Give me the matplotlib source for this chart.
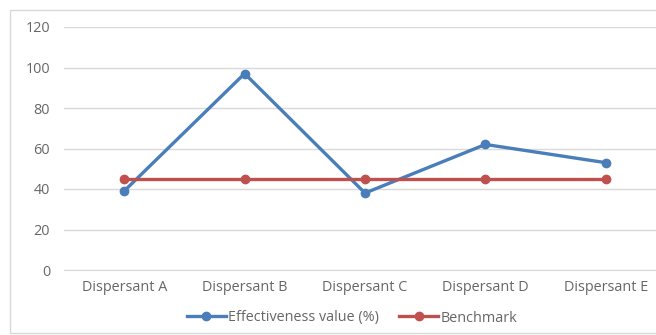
import matplotlib.pyplot as plt

# Effectiveness of each dispersant against a fixed benchmark
dispersants = ['Dispersant A', 'Dispersant B', 'Dispersant C', 'Dispersant D', 'Dispersant E']
effectiveness = [39, 97, 38, 62, 53]
benchmark = [45, 45, 45, 45, 45]
y_ticks = [0, 20, 40, 60, 80, 100, 120]

plt.rcParams['font.family'] = ['Open Sans', 'DejaVu Sans']

fig = plt.figure(figsize=(6.56, 3.35), dpi=100)

# Light frame around the chart area
fig.patches.append(plt.Rectangle((10 / 656, 2 / 335), 1.2, 323 / 335, transform=fig.transFigure,
                                 fill=False, edgecolor='#D9D9D9', linewidth=1.0))

ax = fig.add_axes([64 / 656, 1 - 270 / 335, 602 / 656, 243 / 335])

x = range(len(dispersants))
ax.plot(x, effectiveness, color='#4A7EBB', linewidth=2.4, marker='o', markersize=6,
        label='Effectiveness value (%)', zorder=3)
ax.plot(x, benchmark, color='#C0504D', linewidth=2.4, marker='o', markersize=6,
        label='Benchmark', zorder=3)

ax.set_xlim(-0.5, len(dispersants) - 0.5)
ax.set_ylim(0, 120)
ax.set_yticks(y_ticks)
ax.set_xticks(list(x))
ax.set_xticklabels(dispersants)

ax.grid(axis='y', color='#D9D9D9', linewidth=1.0)
ax.set_axisbelow(True)
for side in ['top', 'right', 'left']:
    ax.spines[side].set_visible(False)
ax.spines['bottom'].set_color('#D9D9D9')
ax.tick_params(length=0, colors='#666666', labelsize=10.4)
ax.tick_params(axis='y', pad=10)
ax.tick_params(axis='x', pad=7.5)

fig.legend(loc='center', bbox_to_anchor=(352 / 656, 1 - 318 / 335), ncol=2, frameon=False,
           fontsize=10.4, labelcolor='#666666', handlelength=2.7, handletextpad=0.15,
           columnspacing=1.4)

fig.savefig('out.png', dpi=100)
